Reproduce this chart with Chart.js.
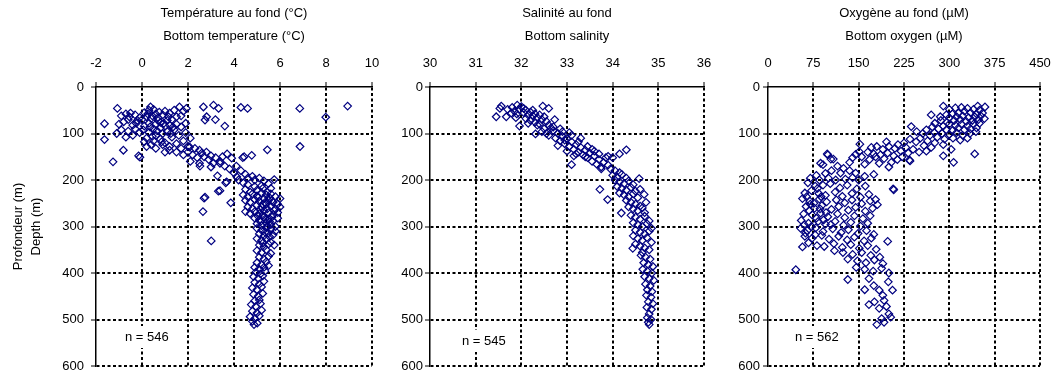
<!DOCTYPE html>
<html lang="fr">
<head>
<meta charset="utf-8">
<title>Conditions au fond</title>
<script src="https://cdn.jsdelivr.net/npm/chart.js@4.4.0/dist/chart.umd.min.js"></script>
<style>
  html, body { margin: 0; padding: 0; background: #fff; }
  #page { position: relative; width: 1054px; height: 372px; overflow: hidden; }
  .panel { position: absolute; top: 0; height: 372px; }
</style>
</head>
<body>
<div id="page">
  <div class="panel" style="left:0;width:384px"><canvas id="grafTemp"></canvas></div>
  <div class="panel" style="left:384px;width:336px"><canvas id="grafSal"></canvas></div>
  <div class="panel" style="left:720px;width:334px"><canvas id="grafOxy"></canvas></div>
</div>
<script>
// =================== DONNÉES ===================
const depthTicks = [0, 100, 200, 300, 400, 500, 600];
const tempTicks = [-2, 0, 2, 4, 6, 8, 10];
const salTicks = [30, 31, 32, 33, 34, 35, 36];
const oxyTicks = [0, 75, 150, 225, 300, 375, 450];

const tempTitle = ['Température au fond (°C)', 'Bottom temperature (°C)'];
const salTitle = ['Salinité au fond', 'Bottom salinity'];
const oxyTitle = ['Oxygène au fond (µM)', 'Bottom oxygen (µM)'];
const depthTitle = ['Profondeur (m)', 'Depth (m)'];

const nLabels = ['n = 546', 'n = 545', 'n = 562'];

// [température, profondeur]
const tempPoints = [
  [-1.07,46],[-1.63,79],[-1.63,113],[-0.81,136],[-0.15,148],[-1.26,161],
  [-0.9,62],[-0.7,58],[-0.5,56],[-0.3,60],[-0.6,70],[-0.8,75],[-1.0,80],[-0.4,82],[-0.2,72],
  [-0.9,92],[-0.6,95],[-0.3,90],[-1.1,100],[-0.7,108],[-0.4,104],[-0.1,98],
  [0.1,55],[0.3,50],[0.37,43],[0.5,48],[0.6,58],[0.2,64],[0.4,68],[0.7,66],[0.9,60],[1.0,52],
  [1.2,56],[1.4,50],[1.63,43],[1.93,46],[1.8,52],[1.7,62],[1.5,64],[1.3,70],[1.1,72],[0.8,76],
  [0.6,80],[0.3,78],[0.1,84],[0.0,70],[-0.1,66],[0.5,90],[0.8,88],[1.0,84],[1.2,82],[1.5,80],
  [1.9,78],[1.7,86],[1.4,92],[1.1,96],[0.9,100],[0.6,104],[0.3,98],[0.2,110],[0.5,116],[0.8,112],
  [1.0,120],[1.3,108],[1.6,104],[1.9,98],[2.1,110],[1.8,116],[1.5,122],[1.2,128],[0.9,124],
  [0.4,124],[0.1,118],[1.7,132],[2.0,128],
  [0.25,58],[0.45,62],[0.75,54],[0.35,86],[0.65,94],[0.95,78],[1.15,64],[1.35,86],[0.05,92],
  [-0.55,64],[-0.25,78],[0.7,72],[1.25,100],[0.45,106],[0.85,118],
  [2.67,43],[3.11,39],[3.33,46],[2.81,64],[2.74,71],[3.19,70],[3.6,84],[4.3,44],[4.59,46],
  [6.86,46],[7.99,65],[8.94,41],[6.87,128],[5.45,135],
  [2.3,132],[2.5,136],[2.6,142],[2.2,146],[2.8,140],[3.0,148],[2.9,156],[3.2,152],[3.4,160],
  [3.1,164],[2.7,150],[2.4,152],[2.0,140],[1.8,146],[1.5,140],[1.2,136],[2.1,160],[2.5,164],
  [3.5,150],[3.7,144],[3.9,153],[3.39,164],[3.6,170],[3.8,176],[4.1,170],[4.38,152],[4.77,147],
  [4.44,150],[3.0,172],[2.52,170],[2.07,129],[1.0,140],[0.6,132],[0.2,128],[-0.09,151],
  [3.68,204],[3.39,223],[2.74,237],[5.75,199],[4.12,193],[4.0,185],[4.3,180],[4.5,188],[4.6,196],
  [4.8,192],[4.9,200],[5.1,196],[5.3,202],[5.5,208],[4.4,206],[4.2,200],[4.6,210],[4.9,214],
  [5.2,212],[5.6,218],[5.0,222],[4.7,226],[4.5,220],[3.28,191],[3.64,206],[3.32,224],
  [2.7,239],[2.65,268],[3.01,331],[3.86,249],
  [4.4,232],[4.6,236],[4.8,230],[5.0,234],[5.2,228],[5.4,232],[5.6,230],[5.8,236],[6.0,240],
  [4.5,244],[4.7,248],[4.9,242],[5.1,246],[5.3,240],[5.5,244],[5.7,248],[5.9,252],[4.6,258],
  [4.8,262],[5.0,254],[5.2,258],[5.4,252],[5.6,256],[5.8,262],[6.0,258],[4.5,268],[4.7,272],
  [4.9,268],[5.1,272],[5.3,266],[5.5,270],[5.7,274],[5.9,270],[4.9,282],[5.1,286],[5.3,280],
  [5.5,284],[5.7,288],[5.9,282],[5.0,294],[5.2,298],[5.4,292],[5.6,296],[5.8,300],[5.35,248],
  [5.45,262],[5.25,276],[5.55,238],[5.15,290],[5.65,280],
  [5.05,238],[5.25,252],[5.45,226],[5.15,264],[5.35,284],[5.55,290],[5.75,266],[5.05,278],
  [5.45,300],[5.65,244],[5.25,218],[5.35,312],[5.55,322],[5.25,336],
  [5.0,304],[5.2,308],[5.4,302],[5.6,306],[5.8,310],[5.1,316],[5.3,320],[5.5,314],[5.7,318],
  [5.0,326],[5.2,330],[5.4,326],[5.6,334],[5.75,340],[5.1,340],[5.3,344],[5.5,338],[5.0,352],
  [5.2,356],[5.4,350],[5.6,358],[5.1,366],[5.3,370],[5.5,364],[5.0,378],[5.2,382],[5.4,376],
  [4.9,388],[5.1,392],[5.3,388],[5.5,384],[4.95,398],[5.15,402],[5.35,396],
  [4.85,408],[5.05,412],[5.25,406],[4.9,420],[5.1,424],[5.3,418],[4.8,432],[5.0,436],[5.2,430],
  [4.85,446],[5.05,450],[5.25,444],[4.9,460],[5.1,458],[4.75,468],[4.95,472],[5.15,466],
  [4.8,482],[5.0,486],[5.2,480],[4.7,494],[4.9,498],[5.1,492],[4.87,511],[5.01,508],[4.8,504]
];

// [salinité, profondeur]
const salPoints = [
  [31.45,64],[31.56,41],[31.53,46],[31.67,64],[31.91,39],[31.96,84],[32.47,41],[32.6,46],
  [32.73,70],[32.31,101],[31.7,48],[31.8,44],[31.85,52],[31.95,48],[32.0,42],[32.05,55],
  [32.1,50],[32.15,60],[31.9,58],[31.78,56],[32.2,54],[32.25,62],[32.3,58],[32.35,66],[32.4,60],
  [32.45,70],[32.5,64],[32.55,74],[32.2,72],[32.1,68],[32.3,76],[32.4,80],[32.6,82],[32.65,88],
  [32.5,90],[32.7,94],[32.45,96],[32.8,100],[32.6,104],[32.9,106],[32.75,110],[33.0,112],
  [32.85,116],[33.1,118],[32.95,122],[33.2,124],[33.05,128],[32.8,126],[33.3,130],[33.15,134],
  [33.4,136],[33.25,140],[33.0,138],[33.5,142],[33.35,146],[33.6,148],[33.45,152],[33.7,156],
  [33.55,160],[33.8,162],[33.65,166],[33.9,168],[33.75,172],[33.1,167],[34.15,144],[34.3,135],
  [33.9,149],[34.0,152],[33.75,176],[32.7,86],[32.9,96],[33.1,104],[33.3,110],[33.2,144],
  [32.55,100],[33.4,150],[33.6,138],
  [32.05,46],[32.25,50],[31.88,66],[32.35,82],[32.15,78],[32.85,90],[33.05,98],[32.95,114],
  [33.25,118],[33.45,128],[33.15,148],[33.55,134],[33.85,152],[33.7,144],
  [33.95,176],[34.05,180],[34.15,184],[34.0,190],[34.1,194],[34.2,188],[34.3,196],[34.05,200],
  [34.15,204],[34.25,208],[34.35,202],[34.45,210],[34.58,197],[34.1,214],[34.2,218],[34.3,222],
  [34.4,216],[34.5,224],[34.6,220],[34.15,228],[34.25,232],[34.35,236],[34.45,230],[34.55,238],
  [34.69,231],[34.73,248],[33.72,220],[33.89,242],[34.19,271],[34.3,244],[34.4,248],[34.5,252],
  [34.6,256],[34.35,258],[34.45,262],[34.55,266],[34.65,260],[34.7,270],
  [34.4,276],[34.5,280],[34.6,284],[34.7,278],[34.8,288],[34.45,292],[34.55,296],[34.65,300],
  [34.75,294],[34.85,304],[34.5,308],[34.6,312],[34.7,316],[34.8,310],[34.45,320],[34.55,326],
  [34.65,330],[34.75,324],[34.85,334],[34.5,338],[34.6,342],[34.7,346],[34.44,347],[34.8,350],
  [34.65,356],
  [34.62,362],[34.72,366],[34.82,370],[34.68,378],[34.78,382],[34.88,386],[34.66,392],[34.76,396],
  [34.86,400],[34.7,408],[34.8,412],[34.9,416],[34.72,424],[34.82,428],[34.76,436],[34.86,440],
  [34.74,448],[34.84,452],[34.78,462],[34.88,466],[34.75,474],[34.85,478],[34.8,488],[34.76,496],
  [34.84,500],[34.8,511],[34.78,506]
];

// [oxygène, profondeur]
const oxyPoints = [
  [290,41],[359,43],[347,41],[270,60],[237,85],
  [300,48],[310,45],[320,44],[330,46],[340,48],[350,50],[355,56],[345,58],[335,55],[325,52],
  [315,56],[305,58],[295,60],[285,64],[300,66],[312,64],[322,62],[332,66],[342,64],[352,62],
  [358,68],[348,70],[338,72],[328,74],[318,70],[308,72],[296,76],[286,72],[276,78],[290,84],
  [300,80],[310,82],[320,80],[330,84],[340,80],[350,78],[345,88],[335,90],[325,92],[315,88],
  [305,94],[295,92],[282,90],[272,86],[262,92],[275,98],[288,100],[300,102],[312,98],[322,104],
  [334,100],[344,96],[330,110],[318,114],[306,110],[292,112],[280,108],[268,104],[256,100],
  [246,96],[252,110],[264,116],[276,120],[290,124],[303,134],[342,144],[307,162],[290,148],
  [270,130],[258,126],[245,118],[235,112],[225,120],[215,124],[228,130],[240,134],[250,140],
  [262,138],[232,142],[220,138],[210,132],[200,128],[196,118],[190,134],[180,128],[171,130],
  [152,123],[165,140],[175,144],[186,146],[198,142],[208,148],[222,150],[234,157],[235,159],
  [214,156],[204,162],[192,154],[178,150],[168,156],[155,150],[145,145],[135,162],[140,152],
  [151,139],[160,166],[184,164],[200,172],[208,221],
  [99,146],[108,155],[91,167],[98,144],[104,155],[87,164],[115,170],[125,175],[135,180],
  [145,185],[120,185],[105,180],[95,186],[80,190],[70,196],[85,200],[100,196],[112,200],
  [128,198],[140,195],[150,200],[160,192],[175,188],[207,219],[178,242],
  [66,206],[78,213],[91,211],[103,208],[119,217],[131,211],[147,219],[161,213],[72,223],[61,228],
  [84,229],[95,233],[111,226],[123,235],[139,229],[153,237],[167,231],[57,240],[69,245],[85,241],
  [97,247],[113,243],[127,249],[139,243],[155,251],[169,245],[181,253],[63,257],[77,261],[89,255],
  [105,263],[117,257],[133,265],[145,259],[161,267],[173,261],[59,273],[73,275],[87,271],[99,279],
  [115,273],[127,281],[143,277],[157,283],[169,277],[55,287],[67,293],[83,289],[95,295],[111,289],
  [125,297],[137,291],[153,299],[165,293],[54,304],[65,309],[79,303],[91,311],[107,305],[121,313],
  [133,307],[149,315],[163,309],[175,317],[198,332],[61,321],[73,325],[89,319],[101,327],[117,321],
  [131,329],[143,323],[159,331],[171,325],[57,344],[67,335],[81,341],[93,343],[109,337],[123,345],
  [137,339],[151,347],[165,341],[179,349],[46,393],
  [64,236],[76,250],[68,266],[80,282],[72,300],[62,314],[86,262],[92,286],[78,318],[70,252],
  [82,218],[96,270],[104,296],[88,236],[60,296],
  [110,352],[124,356],[140,360],[155,356],[170,362],[185,366],[132,370],[148,374],[162,378],
  [176,372],[190,380],[146,388],[160,392],[174,396],[188,390],[200,400],[132,414],[167,412],
  [175,427],[199,419],[184,437],[206,437],[160,436],[190,448],[167,468],[192,459],[176,462],
  [184,476],[196,472],[200,488],[203,495],[180,511],[192,506],[188,498]
];

// =================== GRÁFICOS ===================
const FONTE = '"Liberation Sans", Arial, sans-serif';
const COR_PONTO = '#000080';

// texte "n = ..." sur fond blanc, dans le coin bas gauche
const rotuloN = {
  id: 'rotuloN',
  afterDatasetsDraw(chart, args, opts) {
    const ctx = chart.ctx;
    const area = chart.chartArea;
    const x = area.left + opts.dx;
    const y = area.top + opts.dy;
    ctx.save();
    ctx.font = '13px ' + FONTE;
    const w = ctx.measureText(opts.texto).width;
    ctx.fillStyle = '#fff';
    ctx.fillRect(x - 3, y - 11, w + 6, 22);
    ctx.fillStyle = '#000';
    ctx.textBaseline = 'middle';
    ctx.fillText(opts.texto, x, y);
    ctx.restore();
  }
};

function criarGrafico(id, pontos, xTicks, titulo, cfg) {
  return new Chart(document.getElementById(id), {
    type: 'scatter',
    data: {
      datasets: [{
        data: pontos.map(p => ({ x: p[0], y: p[1] })),
        pointStyle: 'rectRot',
        radius: 3.8,
        hoverRadius: 3.8,
        borderWidth: 1.2,
        borderColor: COR_PONTO,
        backgroundColor: 'rgba(0,0,0,0)'
      }]
    },
    options: {
      responsive: true,
      maintainAspectRatio: false,
      animation: false,
      events: [],
      layout: { padding: { top: 0, right: cfg.padRight, bottom: 6, left: 0 } },
      plugins: {
        legend: { display: false },
        tooltip: { enabled: false },
        rotuloN: { texto: cfg.n, dx: cfg.nDx, dy: cfg.nDy }
      },
      scales: {
        x: {
          type: 'linear',
          position: 'top',
          min: xTicks[0],
          max: xTicks[xTicks.length - 1],
          afterBuildTicks: s => { s.ticks = xTicks.map(v => ({ value: v })); },
          afterFit: s => { s.height = 87; s.paddingLeft = 0; s.paddingRight = 0; },
          title: {
            display: true, text: titulo, color: '#000',
            font: { family: FONTE, size: 13, lineHeight: 23 / 13 },
            padding: { top: 2, bottom: 0 }
          },
          ticks: { color: '#000', font: { family: FONTE, size: 13 }, padding: 11, maxRotation: 0 },
          grid: {
            color: c => c.index === 0 ? 'rgba(0,0,0,0)' : '#000',
            lineWidth: 2, tickColor: '#000', tickWidth: 1, tickLength: 5, tickBorderDash: []
          },
          border: { display: true, color: '#000', width: 1.5, dash: [3, 2.5] }
        },
        y: {
          type: 'linear',
          reverse: true,
          min: depthTicks[0],
          max: depthTicks[depthTicks.length - 1],
          afterBuildTicks: s => { s.ticks = depthTicks.map(v => ({ value: v })); },
          afterFit: s => { s.width = cfg.yWidth; s.paddingTop = 0; s.paddingBottom = 0; },
          title: {
            display: !!cfg.yTitle, text: cfg.yTitle || '', color: '#000',
            font: { family: FONTE, size: 13, lineHeight: 18 / 13 },
            padding: { top: 9, bottom: 0 }
          },
          ticks: { color: '#000', font: { family: FONTE, size: 13 }, padding: cfg.yPad },
          grid: {
            color: c => c.index === 0 ? 'rgba(0,0,0,0)' : '#000',
            lineWidth: 2, tickColor: '#000', tickWidth: 1, tickLength: 5, tickBorderDash: []
          },
          border: { display: true, color: '#000', width: 1.5, dash: [3, 2.5] }
        }
      }
    },
    plugins: [rotuloN]
  });
}

criarGrafico('grafTemp', tempPoints, tempTicks, tempTitle,
  { padRight: 12, yWidth: 96, yPad: 7, yTitle: depthTitle, n: nLabels[0], nDx: 29, nDy: 250 });
criarGrafico('grafSal', salPoints, salTicks, salTitle,
  { padRight: 16, yWidth: 46, yPad: 2, n: nLabels[1], nDx: 32, nDy: 254 });
criarGrafico('grafOxy', oxyPoints, oxyTicks, oxyTitle,
  { padRight: 14, yWidth: 48, yPad: 3, n: nLabels[2], nDx: 27, nDy: 250 });
</script>
</body>
</html>
